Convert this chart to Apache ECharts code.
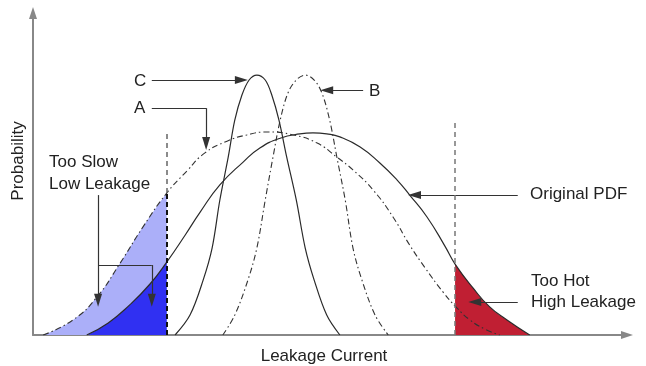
<!DOCTYPE html>
<html><head><meta charset="utf-8">
<script src="https://cdn.jsdelivr.net/npm/echarts@6/dist/echarts.min.js"></script>
<style>html,body{margin:0;padding:0;background:#fff}#c{width:646px;height:366px}</style>
</head><body><div id="c"></div>
<script>
// Curves: [leakage, probability]
const originalPdf = [[9.0,0],[12.6,3.7],[16.2,9.2],[19.6,15.6],[22.4,22.3],[25.5,30.6],[28.0,37.6],[31.3,45.9],[35.2,52.9],[38.0,57.2],[41.4,60.2],[44.7,61.5],[46.9,61.8],[49.2,61.5],[51.4,60.6],[54.8,57.5],[58.1,52.6],[61.0,47.4],[63.1,42.8],[66.0,36.1],[69.0,27.2],[70.7,21.7],[73.7,14.4],[76.5,8.6],[79.4,4.6],[83.2,0]];
const curveA = [[1.7,0],[6.7,4.6],[10.7,11.6],[14.6,22.0],[18.4,33.0],[22.4,43.4],[25.8,50.2],[28.8,55.7],[32.5,59.3],[35.8,61.2],[39.2,62.1],[43.6,61.2],[47.6,58.7],[50.9,54.4],[53.6,50.5],[57.0,44.3],[60.3,36.1],[63.1,27.5],[65.7,20.5],[68.7,13.1],[71.0,8.3],[73.2,4.6],[75.7,1.8],[78.2,0]];
const curveB = [[31.8,0],[33.8,6.1],[36.0,16.8],[37.5,26.6],[38.9,41.3],[40.2,54.4],[41.4,65.7],[42.7,74.0],[44.1,78.0],[45.6,79.5],[47.1,78.0],[48.4,74.0],[49.7,65.7],[50.9,54.4],[52.3,41.3],[53.6,26.6],[55.1,16.8],[57.3,6.1],[59.5,0]];
const curveC = [[23.8,0],[26.3,6.1],[28.5,16.8],[30.0,26.6],[31.3,41.3],[32.7,54.4],[33.8,65.7],[35.0,73.4],[36.2,78.0],[37.5,79.5],[38.9,78.0],[40.0,73.4],[41.2,65.7],[42.5,54.4],[44.1,41.3],[45.6,26.6],[47.1,16.8],[49.2,6.1],[51.4,0]];
const lowCut = 22.4, highCut = 70.7;
const lowCutTop = 62.7, highCutTop = 65.1;
const curveLabels = ['C','A','B','Original PDF'];
const regionLabels = [['Too Slow','Low Leakage'],['Too Hot','High Leakage']];
const axisNames = ['Leakage Current','Probability'];

const FONT = '17px "Liberation Sans", Arial, Helvetica, sans-serif';
const INK = '#222';
const SM_WIDE = 0.5, SM_NARROW = 0.35;
const DASHDOT = [6,3,1.5,3];

const lightBlue = curveA.filter(p => p[0] <= lowCut);
const darkBlue = originalPdf.filter(p => p[0] <= lowCut);
const redTail = originalPdf.filter(p => p[0] >= highCut);
const aAtCut = curveA.find(p => p[0] === lowCut)[1];

function seg(a, b, arrow) {
  return [{coord: a, symbol: 'none'}, {coord: b, symbol: arrow ? 'triangle' : 'none'}];
}
const annoStyle = {color: '#333', width: 1.2, type: 'solid'};
const annotations = [
  seg([19.9,78.0],[34.9,78.0],true),            // C
  seg([19.9,69.4],[29.0,69.4],false),           // A horizontal
  seg([29.0,69.4],[29.0,58.6],true),            // A down
  seg([55.3,74.9],[49.2,74.9],true),            // B
  seg([81.2,42.8],[63.9,42.8],true),            // Original PDF
  seg([81.2,10.1],[74.0,10.1],true),            // Too hot
  seg([10.9,42.8],[10.9,10.6],true),            // Too slow 1
  seg([10.9,21.4],[19.9,21.4],false),           // Too slow horizontal
  seg([19.9,21.4],[19.9,10.6],true)             // Too slow 2
];
const cutLines = [
  [{coord:[lowCut,aAtCut], symbol:'none'},{coord:[lowCut,lowCutTop], symbol:'none', lineStyle:{color:'#666',type:[5,4],width:1.5}}],
  [{coord:[lowCut,0], symbol:'none'},{coord:[lowCut,aAtCut], symbol:'none', lineStyle:{color:'#111',type:[5,3],width:2}}],
  [{coord:[highCut,0], symbol:'none'},{coord:[highCut,highCutTop], symbol:'none', lineStyle:{color:'#777',type:[5,4],width:1.5}}]
];

function area(data, color, sm) {
  return {type:'line', data, smooth:sm, showSymbol:false, silent:true,
    lineStyle:{width:0}, areaStyle:{color, opacity:1}, z:1};
}
function curve(data, dashed, sm, extra) {
  return Object.assign({type:'line', data, smooth:sm, showSymbol:false, silent:true,
    lineStyle:{color: dashed ? '#333' : '#2a2a2a', width: dashed ? 1.1 : 1.2, type: dashed ? DASHDOT : 'solid'}, z:2}, extra||{});
}
function txt(text, x, y, extra) {
  return Object.assign({type:'text', silent:true, style:{text, x, y, font:FONT, fill:INK,
    textAlign:'left', align:'left', textVerticalAlign:'middle', verticalAlign:'middle'}}, extra||{});
}

const chart = echarts.init(document.getElementById('c'), null, {renderer:'canvas'});
chart.setOption({
  animation:false,
  backgroundColor:'#fff',
  grid:{left:33, right:19, top:13, bottom:31},
  xAxis:{type:'value', min:0, max:99.5,
    axisLine:{show:true, onZero:false, symbol:['none','triangle'], symbolSize:[8,12], lineStyle:{color:'#888', width:2}},
    axisTick:{show:false}, axisLabel:{show:false}, splitLine:{show:false}},
  yAxis:{type:'value', min:0, max:98.5,
    axisLine:{show:true, onZero:false, symbol:['none','triangle'], symbolSize:[8,12], lineStyle:{color:'#888', width:2}},
    axisTick:{show:false}, axisLabel:{show:false}, splitLine:{show:false}},
  series:[
    area(lightBlue, '#abaff9', SM_WIDE),
    area(darkBlue, '#3030f2', SM_WIDE),
    area(redTail, '#c01f33', SM_WIDE),
    curve(curveA, true, SM_WIDE),
    curve(curveB, true, SM_NARROW),
    curve(curveC, false, SM_NARROW),
    curve(originalPdf, false, SM_WIDE, {
      markLine:{silent:true, animation:false, symbolSize:[8,13], label:{show:false},
        lineStyle:annoStyle, emphasis:{disabled:true},
        data: annotations.concat(cutLines)}
    })
  ],
  graphic:[
    txt(curveLabels[0], 134, 81),
    txt(curveLabels[1], 134, 108),
    txt(curveLabels[2], 369, 91),
    txt(curveLabels[3], 530, 194),
    txt(regionLabels[0][0], 49, 162),
    txt(regionLabels[0][1], 49, 184),
    txt(regionLabels[1][0], 531, 281),
    txt(regionLabels[1][1], 531, 302),
    {type:'text', silent:true, style:{text:axisNames[0], x:324, y:356, font:FONT, fill:INK, textAlign:'center', align:'center', textVerticalAlign:'middle', verticalAlign:'middle'}},
    {type:'text', silent:true, x:18, y:161, rotation:Math.PI/2, style:{text:axisNames[1], x:0, y:0, font:FONT, fill:INK, textAlign:'center', align:'center', textVerticalAlign:'middle', verticalAlign:'middle'}}
  ]
});
</script>
</body></html>
